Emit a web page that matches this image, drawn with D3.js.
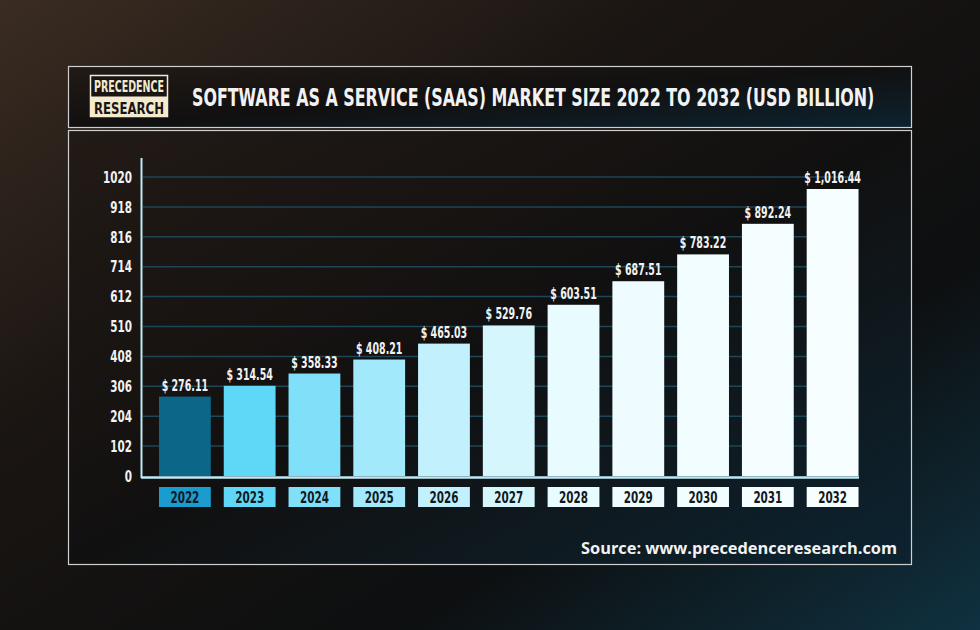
<!DOCTYPE html>
<html><head><meta charset="utf-8">
<script src="https://cdn.jsdelivr.net/npm/d3@7"></script>
<style>html,body{margin:0;padding:0;background:#000;}svg{display:block;}</style>
</head><body>
<svg id="chart" width="980" height="630"></svg>
<script>
const years = ["2022","2023","2024","2025","2026","2027","2028","2029","2030","2031","2032"];
const values = [276.11,314.54,358.33,408.21,465.03,529.76,603.51,687.51,783.22,892.24,1016.44];
const valueLabels = ["$ 276.11","$ 314.54","$ 358.33","$ 408.21","$ 465.03","$ 529.76","$ 603.51","$ 687.51","$ 783.22","$ 892.24","$ 1,016.44"];
const yTicks = [0,102,204,306,408,510,612,714,816,918,1020];
const barColors = ["#0b6688","#5fd8f8","#80e0fa","#a2e9fb","#c2f1fd","#d6f6fe","#e8fbff","#eefcff","#f2fdff","#f4fdff","#f6feff"];
const boxColors = ["#1a9ccf","#5fd8f8","#80e0fa","#a2e9fb","#c2f1fd","#d6f6fe","#e8fbff","#eefcff","#f2fdff","#f4fdff","#f6feff"];
const title = "SOFTWARE AS A SERVICE (SAAS) MARKET SIZE 2022 TO 2032 (USD BILLION)";
const source = "Source: www.precedenceresearch.com";

const font = "'DejaVu Sans Condensed','DejaVu Sans',sans-serif";
function condense(sel, f) {
  sel.each(function(){
    const w = this.getComputedTextLength();
    d3.select(this).attr("textLength", w*f).attr("lengthAdjust","spacingAndGlyphs");
  });
}

const svg = d3.select("#chart");
const defs = svg.append("defs");
const bg = defs.append("linearGradient").attr("id","bg").attr("x1","0").attr("y1","0").attr("x2","1").attr("y2","1");
bg.append("stop").attr("offset","0").attr("stop-color","#3a2c22");
bg.append("stop").attr("offset","0.35").attr("stop-color","#1a1512");
bg.append("stop").attr("offset","0.7").attr("stop-color","#0d0f10");
bg.append("stop").attr("offset","1").attr("stop-color","#0f3140");
svg.append("rect").attr("width",980).attr("height",630).attr("fill","url(#bg)");

const inner = defs.append("linearGradient").attr("id","inner").attr("x1","0").attr("y1","0").attr("x2","1").attr("y2","1");
inner.append("stop").attr("offset","0").attr("stop-color","#221a15");
inner.append("stop").attr("offset","0.5").attr("stop-color","#111010");
inner.append("stop").attr("offset","1").attr("stop-color","#0c2330");

// frames
svg.append("rect").attr("x",68.5).attr("y",66.5).attr("width",843).attr("height",61)
  .attr("fill","url(#inner)").attr("stroke","#cfcfcf").attr("stroke-width",1.2);
svg.append("rect").attr("x",68.5).attr("y",130.5).attr("width",843).attr("height",434)
  .attr("fill","url(#inner)").attr("stroke","#cfcfcf").attr("stroke-width",1.2);

// logo
const lg = svg.append("g");
lg.append("rect").attr("x",90.5).attr("y",75.5).attr("width",77).attr("height",41).attr("fill","#1a1512").attr("stroke","#f3ead0").attr("stroke-width",1.5);
lg.append("rect").attr("x",90.5).attr("y",96.5).attr("width",77).attr("height",20).attr("fill","#f3ead0");
lg.append("text").attr("x",129).attr("y",92).attr("text-anchor","middle").attr("fill","#f3ead0")
  .style("font-family",font).style("font-weight","bold").style("font-size","15px")
  .attr("textLength",70).attr("lengthAdjust","spacingAndGlyphs").text("PRECEDENCE");
lg.append("text").attr("x",129).attr("y",114).attr("text-anchor","middle").attr("fill","#1a1512")
  .style("font-family",font).style("font-weight","bold").style("font-size","16px")
  .attr("textLength",70).attr("lengthAdjust","spacingAndGlyphs").text("RESEARCH");

// title: condensed via transform so its box stays inside the frame
const tt = svg.append("text").attr("fill","#f2f2f2")
  .style("font-family",font).style("font-weight","bold").style("font-size","25px").text(title);
const tw = tt.node().getComputedTextLength();
tt.attr("transform",`translate(192,106) scale(${683/tw},1)`);

// scales
const y = d3.scaleLinear().domain([0,1020]).range([476,177]);
const yBar = d3.scaleLinear().domain([0,1020]).range([474,188]);
const x = d3.scaleBand().domain(years).range([152.5,865]).paddingInner(0.2).paddingOuter(0.1);

// gridlines
svg.append("g").selectAll("line").data(yTicks.slice(1)).join("line")
  .attr("x1",143).attr("x2",858).attr("y1",d=>y(d)).attr("y2",d=>y(d))
  .attr("stroke","#1d4656").attr("stroke-width",1.5);

// y axis
const yAxis = svg.append("g").attr("transform","translate(132,0)")
  .call(d3.axisLeft(y).tickValues(yTicks).tickFormat(d3.format("d")).tickSize(0).tickPadding(0));
yAxis.select(".domain").remove();
yAxis.selectAll("text").attr("fill","#f2f2f2").style("font-family",font).style("font-weight","bold").style("font-size","16.5px")
  .call(condense, 0.7);

svg.append("line").attr("x1",141.5).attr("x2",141.5).attr("y1",158).attr("y2",478).attr("stroke","#bfe9f4").attr("stroke-width",2);
svg.append("line").attr("x1",141).attr("x2",859).attr("y1",477.5).attr("y2",477.5).attr("stroke","#bfe9f4").attr("stroke-width",2.5);

// bars
svg.append("g").selectAll("rect").data(values).join("rect")
  .attr("x",(d,i)=>x(years[i])).attr("width",x.bandwidth())
  .attr("y",d=>yBar(d)).attr("height",d=>y(0)-yBar(d))
  .attr("fill",(d,i)=>barColors[i]);

// value labels
svg.append("g").selectAll("text").data(values).join("text")
  .attr("x",(d,i)=>x(years[i])+x.bandwidth()/2).attr("y",d=>yBar(d)-6)
  .attr("text-anchor","middle").attr("fill","#f2f2f2")
  .style("font-family",font).style("font-weight","bold").style("font-size","15.5px")
  .text((d,i)=>valueLabels[i])
  .call(condense, 0.68);

// x axis boxes
const xAxis = svg.append("g").attr("transform","translate(0,497)")
  .call(d3.axisBottom(x).tickSize(0).tickPadding(0));
xAxis.select(".domain").remove();
xAxis.selectAll(".tick").insert("rect","text")
  .attr("x",-x.bandwidth()/2).attr("y",-10).attr("width",x.bandwidth()).attr("height",20)
  .attr("fill",(d,i)=>boxColors[i]);
xAxis.selectAll("text").attr("y",0).attr("dy","0.36em").attr("fill","#111820")
  .style("font-family",font).style("font-weight","bold").style("font-size","16.5px")
  .call(condense, 0.7);

svg.append("text").attr("x",897).attr("y",554).attr("text-anchor","end").attr("fill","#f2f2f2")
  .style("font-family","'Open Sans',Lato,sans-serif").style("font-weight","bold").style("font-size","16px")
  .attr("textLength",316).attr("lengthAdjust","spacingAndGlyphs")
  .text(source);
</script>
</body></html>
